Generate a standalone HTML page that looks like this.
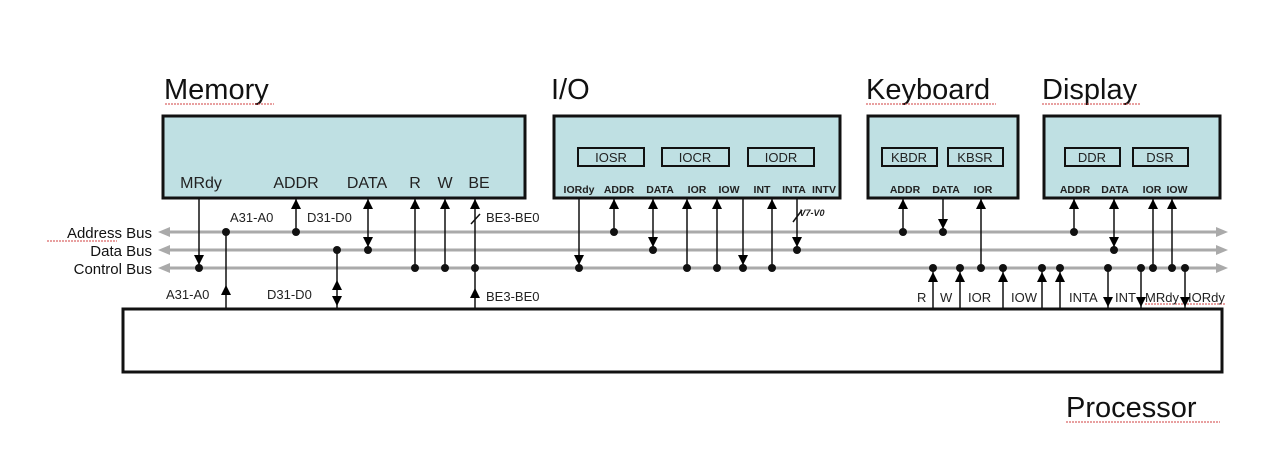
<!DOCTYPE html>
<html><head><meta charset="utf-8"><style>
body{margin:0;background:#fff}
svg{display:block;font-family:"Liberation Sans",Arial,sans-serif}
</style></head><body>
<svg width="1278" height="462" viewBox="0 0 1278 462" xmlns="http://www.w3.org/2000/svg">
<defs>
<g id="up"><polygon points="0,0 -5,10 5,10" fill="#000"/></g>
<g id="dn"><polygon points="0,0 -5,-10 5,-10" fill="#000"/></g>
</defs>
<!-- titles -->
<g font-size="29" fill="#111">
<text x="164" y="99">Memory</text>
<text x="551" y="99">I/O</text>
<text x="866" y="99">Keyboard</text>
<text x="1042" y="99">Display</text>
<text x="1066" y="417">Processor</text>
</g>
<g stroke="#d04040" stroke-width="1" fill="none" stroke-dasharray="2,1">
<line x1="165" y1="104" x2="274" y2="104"/><line x1="866" y1="104" x2="996" y2="104"/>
<line x1="1042" y1="104" x2="1140" y2="104"/><line x1="1066" y1="422" x2="1220" y2="422"/>
<line x1="47" y1="241" x2="117" y2="241"/><line x1="180" y1="190" x2="222" y2="190"/>
<line x1="563" y1="197" x2="595" y2="197"/><line x1="1145" y1="304" x2="1225" y2="304"/>
</g>
<!-- boxes -->
<g fill="#bfe0e3" stroke="#111" stroke-width="3">
<rect x="163" y="116" width="362" height="82"/>
<rect x="554" y="116" width="286" height="82"/>
<rect x="868" y="116" width="150" height="82"/>
<rect x="1044" y="116" width="176" height="82"/>
<rect x="123" y="309" width="1099" height="63" fill="#fff"/>
</g>
<g fill="none" stroke="#111" stroke-width="2">
<rect x="578" y="148" width="66" height="18"/><rect x="662" y="148" width="67" height="18"/>
<rect x="748" y="148" width="66" height="18"/>
<rect x="882" y="148" width="55" height="18"/><rect x="948" y="148" width="55" height="18"/>
<rect x="1065" y="148" width="55" height="18"/><rect x="1133" y="148" width="55" height="18"/>
</g>
<g font-size="13" fill="#222" text-anchor="middle">
<text x="611" y="162">IOSR</text><text x="695" y="162">IOCR</text><text x="781" y="162">IODR</text>
<text x="909" y="162">KBDR</text><text x="975" y="162">KBSR</text>
<text x="1092" y="162">DDR</text><text x="1160" y="162">DSR</text>
</g>
<g font-size="16" fill="#222" text-anchor="middle">
<text x="201" y="188">MRdy</text><text x="296" y="188">ADDR</text><text x="367" y="188">DATA</text>
<text x="415" y="188">R</text><text x="445" y="188">W</text><text x="479" y="188">BE</text>
</g>
<g font-size="10.5" font-weight="bold" fill="#222" text-anchor="middle">
<text x="579" y="193">IORdy</text><text x="619" y="193">ADDR</text><text x="660" y="193">DATA</text>
<text x="697" y="193">IOR</text><text x="729" y="193">IOW</text><text x="762" y="193">INT</text>
<text x="794" y="193">INTA</text><text x="824" y="193">INTV</text>
<text x="905" y="193">ADDR</text><text x="946" y="193">DATA</text><text x="983" y="193">IOR</text>
<text x="1075" y="193">ADDR</text><text x="1115" y="193">DATA</text><text x="1152" y="193">IOR</text><text x="1177" y="193">IOW</text>
<text x="812" y="216" font-style="italic" font-size="9">V7-V0</text>
</g>
<!-- buses -->
<g stroke="#aaa" stroke-width="3">
<line x1="168" y1="232" x2="1216" y2="232"/><line x1="168" y1="250" x2="1216" y2="250"/><line x1="168" y1="268" x2="1216" y2="268"/>
</g>
<g fill="#aaa">
<polygon points="158,232 170,227 170,237"/><polygon points="158,250 170,245 170,255"/><polygon points="158,268 170,263 170,273"/>
<polygon points="1228,232 1216,227 1216,237"/><polygon points="1228,250 1216,245 1216,255"/><polygon points="1228,268 1216,263 1216,273"/>
</g>
<g font-size="15" fill="#111" text-anchor="end">
<text x="152" y="238">Address Bus</text><text x="152" y="256">Data Bus</text><text x="152" y="274">Control Bus</text>
</g>
<g font-size="13" fill="#222">
<text x="230" y="222">A31-A0</text><text x="307" y="222">D31-D0</text><text x="486" y="222">BE3-BE0</text>
<text x="166" y="299">A31-A0</text><text x="267" y="299">D31-D0</text><text x="486" y="301">BE3-BE0</text>
<text x="917" y="302">R</text><text x="940" y="302">W</text><text x="968" y="302">IOR</text><text x="1011" y="302">IOW</text>
<text x="1069" y="302">INTA</text><text x="1115" y="302">INT</text><text x="1145" y="302">MRdy</text><text x="1188" y="302">IORdy</text>
</g>
<!-- vertical connectors -->
<g stroke="#111" stroke-width="1.5">
<line x1="199" y1="198" x2="199" y2="268"/><line x1="226" y1="232" x2="226" y2="308"/>
<line x1="296" y1="198" x2="296" y2="232"/><line x1="368" y1="198" x2="368" y2="250"/>
<line x1="337" y1="250" x2="337" y2="308"/><line x1="415" y1="198" x2="415" y2="268"/>
<line x1="445" y1="198" x2="445" y2="268"/><line x1="475" y1="198" x2="475" y2="308"/>
<line x1="471" y1="224" x2="480" y2="214"/>
<line x1="579" y1="198" x2="579" y2="268"/><line x1="614" y1="198" x2="614" y2="232"/>
<line x1="653" y1="198" x2="653" y2="250"/><line x1="687" y1="198" x2="687" y2="268"/>
<line x1="717" y1="198" x2="717" y2="268"/><line x1="743" y1="198" x2="743" y2="268"/>
<line x1="772" y1="198" x2="772" y2="268"/><line x1="797" y1="198" x2="797" y2="250"/>
<line x1="793" y1="222" x2="802" y2="210"/>
<line x1="903" y1="198" x2="903" y2="232"/><line x1="943" y1="198" x2="943" y2="232"/>
<line x1="981" y1="198" x2="981" y2="268"/>
<line x1="1074" y1="198" x2="1074" y2="232"/><line x1="1114" y1="198" x2="1114" y2="250"/>
<line x1="1153" y1="198" x2="1153" y2="268"/><line x1="1172" y1="198" x2="1172" y2="268"/>
<line x1="933" y1="268" x2="933" y2="308"/><line x1="960" y1="268" x2="960" y2="308"/>
<line x1="1003" y1="268" x2="1003" y2="308"/><line x1="1042" y1="268" x2="1042" y2="308"/>
<line x1="1060" y1="268" x2="1060" y2="308"/><line x1="1108" y1="268" x2="1108" y2="308"/>
<line x1="1141" y1="268" x2="1141" y2="308"/><line x1="1185" y1="268" x2="1185" y2="308"/>
</g>
<!-- dots -->
<g fill="#111">
<circle cx="199" cy="268" r="4"/><circle cx="226" cy="232" r="4"/><circle cx="296" cy="232" r="4"/>
<circle cx="368" cy="250" r="4"/><circle cx="337" cy="250" r="4"/><circle cx="415" cy="268" r="4"/>
<circle cx="445" cy="268" r="4"/><circle cx="475" cy="268" r="4"/>
<circle cx="579" cy="268" r="4"/><circle cx="614" cy="232" r="4"/><circle cx="653" cy="250" r="4"/>
<circle cx="687" cy="268" r="4"/><circle cx="717" cy="268" r="4"/><circle cx="743" cy="268" r="4"/>
<circle cx="772" cy="268" r="4"/><circle cx="797" cy="250" r="4"/>
<circle cx="903" cy="232" r="4"/><circle cx="943" cy="232" r="4"/><circle cx="981" cy="268" r="4"/>
<circle cx="1074" cy="232" r="4"/><circle cx="1114" cy="250" r="4"/><circle cx="1153" cy="268" r="4"/><circle cx="1172" cy="268" r="4"/>
<circle cx="933" cy="268" r="4"/><circle cx="960" cy="268" r="4"/><circle cx="1003" cy="268" r="4"/>
<circle cx="1042" cy="268" r="4"/><circle cx="1060" cy="268" r="4"/><circle cx="1108" cy="268" r="4"/>
<circle cx="1141" cy="268" r="4"/><circle cx="1185" cy="268" r="4"/>
</g>
<!-- arrowheads -->
<use href="#dn" x="199" y="265"/><use href="#up" x="226" y="285"/>
<use href="#up" x="296" y="199"/><use href="#up" x="368" y="199"/><use href="#dn" x="368" y="247"/>
<use href="#up" x="337" y="280"/><use href="#dn" x="337" y="306"/>
<use href="#up" x="415" y="199"/><use href="#up" x="445" y="199"/><use href="#up" x="475" y="199"/>
<use href="#up" x="475" y="288"/>
<use href="#dn" x="579" y="265"/><use href="#up" x="614" y="199"/><use href="#up" x="653" y="199"/>
<use href="#dn" x="653" y="247"/><use href="#up" x="687" y="199"/><use href="#up" x="717" y="199"/>
<use href="#dn" x="743" y="265"/><use href="#up" x="772" y="199"/><use href="#dn" x="797" y="247"/>
<use href="#up" x="903" y="199"/><use href="#dn" x="943" y="229"/><use href="#up" x="981" y="199"/>
<use href="#up" x="1074" y="199"/><use href="#up" x="1114" y="199"/><use href="#dn" x="1114" y="247"/>
<use href="#up" x="1153" y="199"/><use href="#up" x="1172" y="199"/>
<use href="#up" x="933" y="272"/><use href="#up" x="960" y="272"/><use href="#up" x="1003" y="272"/>
<use href="#up" x="1042" y="272"/><use href="#up" x="1060" y="272"/>
<use href="#dn" x="1108" y="307"/><use href="#dn" x="1141" y="307"/><use href="#dn" x="1185" y="307"/>
</svg>
</body></html>
